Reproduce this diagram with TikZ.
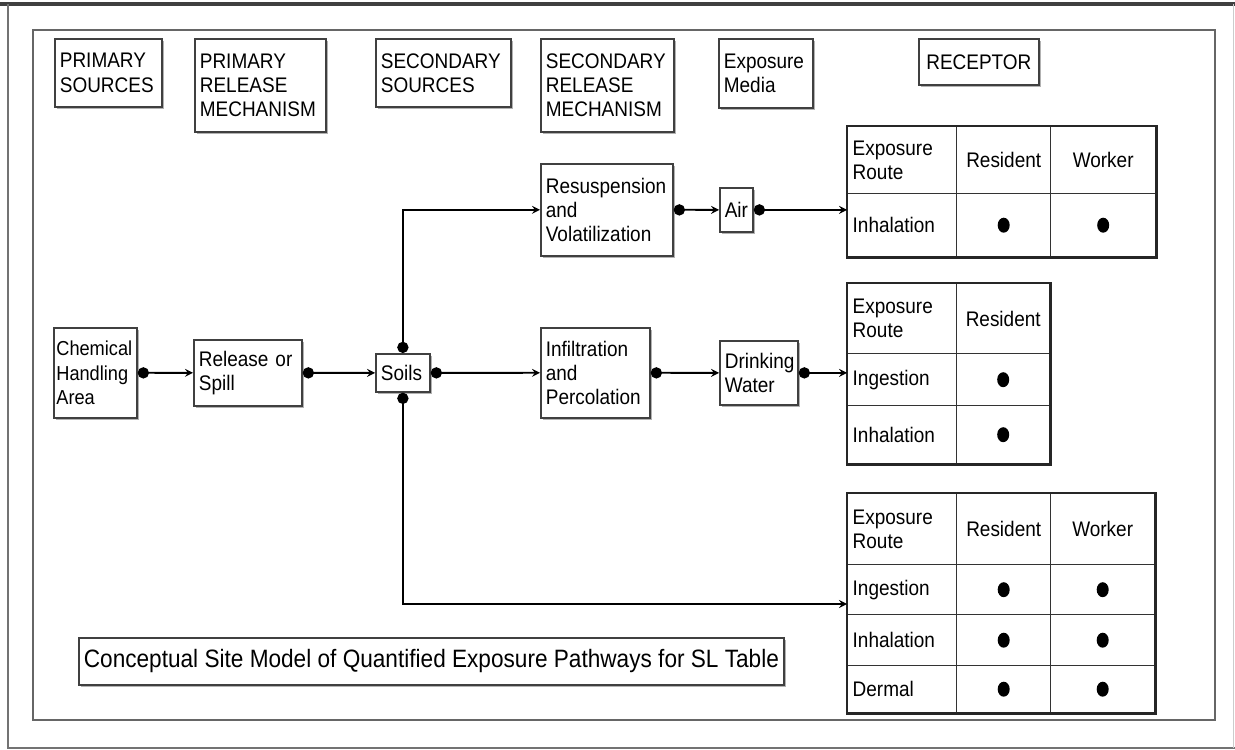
\documentclass[tikz,border=0pt]{standalone}
\usepackage{fontspec}
\setmainfont[FakeStretch=0.9]{Liberation Sans}
\usetikzlibrary{arrows, shadows}
\tikzstyle{box} = [rectangle, anchor=north west, align=left, inner sep=0.1cm, draw=black!75, line width=1pt, fill=white, drop shadow={shadow xshift=0.05cm, shadow yshift=-0.05cm, fill=black!30, opacity=1}, font=\fontsize{12}{13.8}\selectfont]
\tikzstyle{cell} = [rectangle, anchor=north west, align=left, inner sep=0.1cm, draw=black!80, line width=0.8pt, font=\fontsize{12}{13.8}\selectfont]
\tikzstyle{tableframe} = [draw=black!85, line width=1.3pt]
\tikzstyle{arrow} = [line width=1pt, *->, >=stealth]

\begin{document}
\begin{tikzpicture}[x=0.02cm, y=-0.02cm]
\useasboundingbox (0,0) rectangle (1235,750);
\draw [line width=0.08cm, black!75] (0,4) -- (1235,4);
\draw [black!55, line width=1pt] (8,4) -- (8,748) -- (1235,748);
\draw [black!20] (1233,4) -- (1233,748);
\draw [black!60, line width=1.2pt] (33,30) rectangle (1215,720);

\node (psrc) [box, text width=1.94cm, minimum height=1.36cm] at (54,38) {PRIMARY\\SOURCES};
\node (prel) [box, text width=2.42cm, minimum height=1.86cm] at (194,38) {PRIMARY\\RELEASE\\MECHANISM};
\node (ssrc) [box, text width=2.50cm, minimum height=1.36cm] at (375,38) {SECONDARY\\SOURCES};
\node (srel) [box, text width=2.46cm, minimum height=1.86cm] at (540,38) {SECONDARY\\RELEASE\\MECHANISM};
\node (media) [box, text width=1.68cm, minimum height=1.38cm] at (718,38) {Exposure\\Media};
\node (recep) [box, align=center, text width=2.20cm, minimum height=0.92cm] at (918,38) {RECEPTOR};

\node (chem) [box, inner xsep=0.05cm, text width=1.56cm, minimum height=1.80cm, font=\fontsize{11.5}{13.8}\selectfont] at (53,327) {Chemical\\Handling\\Area};
\node (spill) [box, text width=1.96cm, minimum height=1.32cm] at (193,339) {Release or\\Spill};
\node (soils) [box, text width=0.88cm, minimum height=0.76cm] at (375,353) {Soils};
\node (resus) [box, text width=2.44cm, minimum height=1.84cm] at (540,163) {Resuspension\\and\\Volatilization};
\node (air) [box, align=center, inner xsep=0.03cm, minimum width=0.66cm, minimum height=0.88cm] at (719,187) {Air};
\node (infil) [box, text width=1.98cm, minimum height=1.80cm] at (540,327) {Infiltration\\and\\Percolation};
\node (drink) [box, text width=1.36cm, minimum height=1.28cm] at (719,340) {Drinking\\Water};
\node (title) [box, align=center, minimum width=14.06cm, minimum height=0.94cm, font=\fontsize{14.3}{16}\selectfont] at (78,637) {Conceptual Site Model of Quantified Exposure Pathways for SL Table};

\node (t1h1) [cell, text width=1.98cm, minimum height=1.34cm] at (847,126) {Exposure\\Route};
\node (t1h2) [cell, align=center, text width=1.68cm, minimum height=1.34cm] at (956,126) {Resident};
\node (t1h3) [cell, align=center, text width=1.90cm, minimum height=1.34cm] at (1050,126) {Worker};
\node (t1r1c1) [cell, text width=1.98cm, minimum height=1.26cm] at (847,193) {Inhalation};
\node (t1r1c2) [cell, text width=1.68cm, minimum height=1.26cm] at (956,193) {};
\node (t1r1c3) [cell, text width=1.90cm, minimum height=1.26cm] at (1050,193) {};

\node (t2h1) [cell, text width=1.98cm, minimum height=1.40cm] at (847,283) {Exposure\\Route};
\node (t2h2) [cell, align=center, text width=1.66cm, minimum height=1.40cm] at (956,283) {Resident};
\node (t2r1c1) [cell, text width=1.98cm, minimum height=1.04cm] at (847,353) {Ingestion};
\node (t2r1c2) [cell, text width=1.66cm, minimum height=1.04cm] at (956,353) {};
\node (t2r2c1) [cell, text width=1.98cm, minimum height=1.16cm] at (847,405) {Inhalation};
\node (t2r2c2) [cell, text width=1.66cm, minimum height=1.16cm] at (956,405) {};

\node (t3h1) [cell, text width=1.98cm, minimum height=1.42cm] at (847,493) {Exposure\\Route};
\node (t3h2) [cell, align=center, text width=1.68cm, minimum height=1.42cm] at (956,493) {Resident};
\node (t3h3) [cell, align=center, text width=1.88cm, minimum height=1.42cm] at (1050,493) {Worker};
\node (t3r1c1) [cell, text width=1.98cm, minimum height=1.00cm] at (847,564) {Ingestion};
\node (t3r1c2) [cell, text width=1.68cm, minimum height=1.00cm] at (956,564) {};
\node (t3r1c3) [cell, text width=1.88cm, minimum height=1.00cm] at (1050,564) {};
\node (t3r2c1) [cell, text width=1.98cm, minimum height=1.02cm] at (847,614) {Inhalation};
\node (t3r2c2) [cell, text width=1.68cm, minimum height=1.02cm] at (956,614) {};
\node (t3r2c3) [cell, text width=1.88cm, minimum height=1.02cm] at (1050,614) {};
\node (t3r3c1) [cell, text width=1.98cm, minimum height=0.94cm] at (847,665) {Dermal};
\node (t3r3c2) [cell, text width=1.68cm, minimum height=0.94cm] at (956,665) {};
\node (t3r3c3) [cell, text width=1.88cm, minimum height=0.94cm] at (1050,665) {};

\draw [tableframe] (t1h1.north west) rectangle (t1r1c3.south east);
\draw [tableframe] (t2h1.north west) rectangle (t2r2c2.south east);
\draw [tableframe] (t3h1.north west) rectangle (t3r3c3.south east);

\fill (t1r1c2) ellipse (0.12cm and 0.15cm);
\fill (t1r1c3) ellipse (0.12cm and 0.15cm);
\fill (t2r1c2) ellipse (0.12cm and 0.15cm);
\fill (t2r2c2) ellipse (0.12cm and 0.15cm);
\fill (t3r1c2) ellipse (0.12cm and 0.15cm);
\fill (t3r1c3) ellipse (0.12cm and 0.15cm);
\fill (t3r2c2) ellipse (0.12cm and 0.15cm);
\fill (t3r2c3) ellipse (0.12cm and 0.15cm);
\fill (t3r3c2) ellipse (0.12cm and 0.15cm);
\fill (t3r3c3) ellipse (0.12cm and 0.15cm);

\coordinate (t3in) at (847,604);

\draw [arrow] (chem.east) -- (spill.west);
\draw [arrow] (spill.east) -- (soils.west);
\draw [arrow] (soils.east) -- (infil.west);
\draw [arrow] (infil.east) -- (drink.west);
\draw [arrow] (drink.east) -- (drink.east -| t2r1c1.west);
\draw [arrow] (soils.north) |- (resus.west);
\draw [arrow] (resus.east) -- (air.west);
\draw [arrow] (air.east) -- (air.east -| t1r1c1.west);
\draw [arrow] (soils.south) |- (t3in);

\end{tikzpicture}
\end{document}
